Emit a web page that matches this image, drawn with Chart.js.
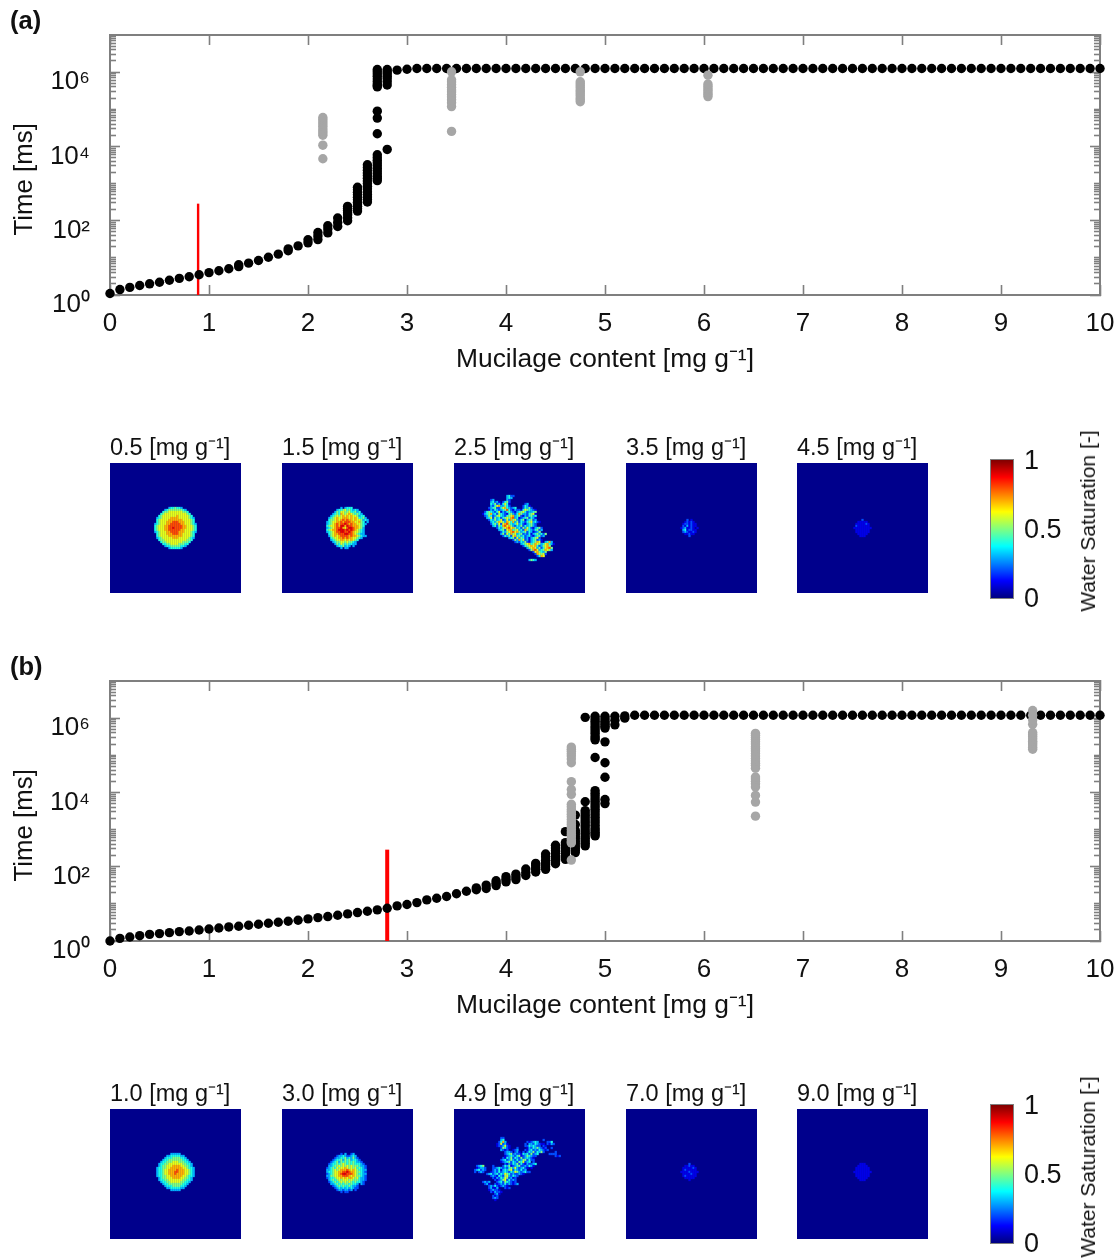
<!DOCTYPE html>
<html><head><meta charset="utf-8">
<style>
html,body{margin:0;padding:0;background:#fff;width:1114px;height:1258px;overflow:hidden}
#page{position:relative;width:1114px;height:1258px;overflow:hidden;filter:blur(0.45px)}
canvas{position:absolute;display:block}
canvas.heat{filter:blur(0.6px)}
.t{position:absolute;font-family:"Liberation Sans",Arial,sans-serif;color:#111;white-space:nowrap}
</style>
<script src="https://cdn.jsdelivr.net/npm/chart.js@4"></script>
</head><body><div id="page"></div>
<script>
const xTicks=[0,1,2,3,4,5,6,7,8,9,10];
const yMajorTicks=[1,100,10000,1000000];
const yMajorLabels=['10⁰','10²','10⁴','10⁶'];
const yMinorTicks=[2,3,4,5,6,7,8,9,10,20,30,40,50,60,70,80,90,200,300,400,500,600,700,800,900,1000,2000,3000,4000,5000,6000,7000,8000,9000,20000,30000,40000,50000,60000,70000,80000,90000,100000,200000,300000,400000,500000,600000,700000,800000,900000,2000000,3000000,4000000,5000000,6000000,7000000,8000000,9000000];

// panel (a) — time per mucilage content column
const aCurveX=[0,0.1,0.2,0.3,0.4,0.5,0.6,0.7,0.8,0.9,1,1.1,1.2,1.3,1.4,1.5,1.6,1.7,1.8,1.9,2,2.1,2.2,2.3,2.4,2.5,2.6,2.7,2.8,2.9,3];
const aCurveT=[[1.1],[1.4],[1.6],[1.8],[2],[2.2],[2.5],[2.8],[3.1],[3.5],[4],[4.5],[5.1],[5.8,6.5],[7.2],[8.5],[10.4],[12.6],[15.5,17.5],[21],[25.4,30.6],[31,39,48],[47,60,73],[70,90,118],[100,120,145,165,190,215,244],[182,210,244,280,313,365,427,500,583,680,794],[320,375,436,510,600,720,850,1000,1180,1400,1640,1930,2290,2700,3200],[1200,1380,1580,1860,2190,2600,3060,3600,4270,5000,5960,22000,58000,89000,400000,440000,480000,560000,650000,770000,890000,1030000,1180000],[8300,450000,550000,660000,780000,910000,1030000,1180000],[1130000],[1200000]];
const aPlateauX=[3.1,3.2,3.3,3.4,3.5,3.6,3.7,3.8,3.9,4,4.1,4.2,4.3,4.4,4.5,4.6,4.7,4.8,4.9,5,5.1,5.2,5.3,5.4,5.5,5.6,5.7,5.8,5.9,6,6.1,6.2,6.3,6.4,6.5,6.6,6.7,6.8,6.9,7,7.1,7.2,7.3,7.4,7.5,7.6,7.7,7.8,7.9,8,8.1,8.2,8.3,8.4,8.5,8.6,8.7,8.8,8.9,9,9.1,9.2,9.3,9.4,9.5,9.6,9.7,9.8,9.9,10];
const aPlateauT=[1250000,1250000,1250000,1250000,1250000,1250000,1250000,1250000,1250000,1250000,1250000,1250000,1250000,1250000,1250000,1250000,1250000,1250000,1250000,1250000,1250000,1250000,1250000,1250000,1250000,1250000,1250000,1250000,1250000,1250000,1250000,1250000,1250000,1250000,1250000,1250000,1250000,1250000,1250000,1250000,1250000,1250000,1250000,1250000,1250000,1250000,1250000,1250000,1250000,1250000,1250000,1250000,1250000,1250000,1250000,1250000,1250000,1250000,1250000,1250000,1250000,1250000,1250000,1250000,1250000,1250000,1250000,1250000,1250000,1250000];
const aGrayX=[2.15,3.45,4.75,6.04];
const aGrayT=[[4650,10800,20000,23000,26000,30000,35000,40000,46000,53000,60000],[25400,118000,150000,180000,215000,250000,290000,330000,390000,460000,540000,620000,1020000],[160000,180000,200000,230000,260000,295000,330000,380000,430000,490000,550000,1020000],[220000,250000,280000,320000,360000,420000,480000,830000]];
const aRedX=[0.89,0.89];
const aRedT=[1,288];

// panel (b)
const bCurveX=[0,0.1,0.2,0.3,0.4,0.5,0.6,0.7,0.8,0.9,1,1.1,1.2,1.3,1.4,1.5,1.6,1.7,1.8,1.9,2,2.1,2.2,2.3,2.4,2.5,2.6,2.7,2.8,2.9,3,3.1,3.2,3.3,3.4,3.5,3.6,3.7,3.8,3.9,4,4.1,4.2,4.3,4.4,4.5,4.6,4.7,4.8,4.9,5,5.1,5.2];
const bCurveT=[[1],[1.18],[1.28],[1.39],[1.51],[1.58],[1.68],[1.79],[1.86],[1.98],[2.11],[2.24],[2.39],[2.49],[2.65],[2.82],[3],[3.2],[3.4],[3.62],[3.93],[4.27],[4.55],[4.94],[5.37],[5.83],[6.34],[6.9],[7.64],[8.8],[9.6],[10.8],[12.8],[14.2],[15.8],[18.7],[21.9],[24,27],[26,32],[31,36,42],[39,46,54],[45,53,63],[58,70,87],[72,85,95,110,123],[85,100,115,130,150,185,220],[120,135,150,170,190,230,270,320,377],[158,180,205,232,260,300,340,390,445,880],[240,277,316,360,417,480,562,640,733,840,955,1365,2450],[363,430,500,580,676,800,930,1100,1290,1500,1740,2050,2400,2800,3240,5600,1050000],[676,760,850,970,1100,1300,1550,1800,2140,2550,3020,3550,4170,4900,5750,6800,8100,9500,11200,87000,260000,290000,330000,390000,450000,520000,600000,710000,830000,960000,1120000],[5000,6460,25700,63000,230000,540000,600000,660000,740000,830000,970000,1120000],[660000,880000,1120000],[1000000,1150000]];
const bPlateauX=[5.3,5.4,5.5,5.6,5.7,5.8,5.9,6,6.1,6.2,6.3,6.4,6.5,6.6,6.7,6.8,6.9,7,7.1,7.2,7.3,7.4,7.5,7.6,7.7,7.8,7.9,8,8.1,8.2,8.3,8.4,8.5,8.6,8.7,8.8,8.9,9,9.1,9.2,9.3,9.4,9.5,9.6,9.7,9.8,9.9,10];
const bPlateauT=[1200000,1200000,1200000,1200000,1200000,1200000,1200000,1200000,1200000,1200000,1200000,1200000,1200000,1200000,1200000,1200000,1200000,1200000,1200000,1200000,1200000,1200000,1200000,1200000,1200000,1200000,1200000,1200000,1200000,1200000,1200000,1200000,1200000,1200000,1200000,1200000,1200000,1200000,1200000,1200000,1200000,1200000,1200000,1200000,1200000,1200000,1200000,1200000];
const bGrayX=[4.66,6.52,9.32];
const bGrayT=[[151,437,470,537,640,741,860,1000,1180,1380,1600,1860,2200,2570,3000,3470,4100,4800,8900,12000,19500,63000,79000,95000,110000,129000,145000,166000],[2300,5500,8300,14000,17000,20000,23000,26000,45000,54000,61000,70000,82000,95000,112000,130000,150000,170000,200000,230000,265000,300000,345000,390000],[145000,165000,190000,215000,240000,280000,320000,360000,410000,680000,890000,1200000,1600000]];
const bRedX=[2.8,2.8];
const bRedT=[1,288];

// saturation maps: one char per cell, digit = saturation × 10
const aMapTitles=['0.5 [mg g⁻¹]','1.5 [mg g⁻¹]','2.5 [mg g⁻¹]','3.5 [mg g⁻¹]','4.5 [mg g⁻¹]'];
const bMapTitles=['1.0 [mg g⁻¹]','3.0 [mg g⁻¹]','4.9 [mg g⁻¹]','7.0 [mg g⁻¹]','9.0 [mg g⁻¹]'];
const aMapOrigins=[[22,22],[22,22],[10,16],[27,28],[28,28]];
const bMapOrigins=[[23,22],[22,22],[8,14],[27,27],[28,27]];
const aMap1=[
".......3445443.......",
".....34555555543.....",
"....4556666666554....",
"...456666666666654...",
"..45666666676666654..",
".3456666777766666543.",
".4566667777777666654.",
".4566677788877766654.",
"345666778888877666543",
"456667788888887766654",
"456667788988887766654",
"456667788888877666654",
"345666778888777666543",
".4566677788877666654.",
".4566667777777666654.",
".3456666677766666543.",
"..45566666666666554..",
"...455666666665554...",
"....4455666655544....",
".....34455555443.....",
".......3444443......."];
const aMap2=[
".......3.3444........",
".....34456454343.....",
"....3546655644534....",
"...345476567654543...",
"..34565676767665344..",
".3456766777676764453.",
".45567678787767665343",
"3456677878887766754.3",
"34567878898787766543.",
"4566787997988777654..",
"3456788976899877653..",
"4567789998989876543..",
"3456788998898766543..",
".456778889988765433..",
".3567678888787765433.",
"..4566778787766543...",
"..34566776767654.....",
"...345566565543......",
"....35465454433......",
".....3445343.3.......",
".......3.33.........."];
const aMap3=[
"................3422",
"................343",
"........23......32",
"........34231.2452",
"........4352314641.......23",
"........3246733542......2431",
".......23452246743234...24352",
".......132432345842132214654321",
".....24543246132453213456423345",
"....134573425432145324753324561",
".....23542356432456734521324534",
"......3462534245657834123452431",
".......243534623637563245134523",
"........3435765376473524324563421",
"........24536267854346342134532",
".........3425478675324352434532",
"...........24356786753425364213452",
"............3452677456342754324523",
".............24356786753452431235",
".............35264756345232413453425",
"..............243526745342342134523",
".................3452635423134562",
"...................253746231345231",
"....................23243521345761.3473",
".......................34567457653467431",
"........................24567674235675",
"..........................3567635246785",
"...........................257863457653",
".............................2675435",
"..............................276562",
"...............................2476",
"",
"...........................3543"];
const aMap4=[
"...2.1...",
"..12121..",
".1221211.",
".2131211.",
"1231121.1",
".3412211.",
".2321121.",
"..11211..",
"....2...."];
const aMap5=[
"....2....",
"..11111..",
".1111121.",
".2111111.",
"111111111",
".1111111.",
".1111111.",
"..11111..",
"...111..."];
const bMap1=[
".......33333.......",
".....334444433.....",
"....34445555443....",
"...3445555555443...",
"..344555666555443..",
".34455666666655443.",
".34556667777665543.",
"3445566777777665443",
"3445667777877766543",
"3445667778877766543",
"3445667778777766543",
"3445566777777665443",
".34556667777665543.",
".34455666666655443.",
"..344556666655443..",
"...3445555555443...",
"....34445555443....",
".....334444433.....",
".......33333......."];
const bMap2=[
".......2.3..23.......",
".....2334322343......",
"....233445343532.....",
"...23445354534432....",
"..2345354545454332...",
".234454565454544432..",
".3345565656565554332.",
"23454656676565645432.",
"33456567778767654433.",
"34456677889877655432.",
"23456678998887654433.",
"33556677888767655432.",
"23445667676776564332.",
".3454565666565554332.",
".234545656565454432..",
"..33454545545443.32..",
"...2345454454332.....",
"....234343434322.....",
".....23323323.2......",
".......2.22.........."];
const bMap3=[
"...............22",
"...............34...................2",
"..............2473..........212343....224",
".............126231........2.33243211.2132",
".............1223621.......22434322.21",
"...............25421...2....1324353212..2",
"...............3212..123...213423243212",
".................2332.231.2.243524352.....2",
".................23452322143425234.....2222",
".................1234324512354322.........212",
"................2143524325234321",
"...............23423532423552422",
"...............123452432546234.2",
".................2132435242132234",
"...2345....2....2435123452232431",
"...12332...223432324536323421.1",
"..234232...23241343562432423",
"..2.232...12324234324365323422",
"........2342342436542322321",
"..........23214325632432",
"...........213243652312",
"............21235624232",
"......2323...2342543212",
".......231..212324232123",
".........2324212321",
".........23113...212",
".........123221",
"..........213221",
"............231",
"...........212",
"...........232",
"............1"];
const bMap4=[
"....2....",
"..11211..",
".1111121.",
".1211111.",
"111121111",
".1111211.",
".1211111.",
"..11111..",
"....1...."];
const bMap5=[
"...111...",
"..11111..",
".1111111.",
".1111111.",
"111111111",
".1111111.",
".1111111.",
"..11111..",
"...111..."];
const aMaps=[aMap1,aMap2,aMap3,aMap4,aMap5];
const bMaps=[bMap1,bMap2,bMap3,bMap4,bMap5];

Chart.defaults.font.family='"Liberation Sans",Arial,sans-serif';
Chart.defaults.color='#111';
const GRAY='#7f7f7f';
const page=document.getElementById('page');
function addCanvas(x,y,w,h){const c=document.createElement('canvas');c.width=w;c.height=h;c.style.left=x+'px';c.style.top=y+'px';c.style.width=w+'px';c.style.height=h+'px';page.appendChild(c);return c;}
function addText(txt,x,y,size,extra){const d=document.createElement('div');d.className='t';d.textContent=txt;d.style.left=x+'px';d.style.top=y+'px';d.style.fontSize=size+'px';if(extra)Object.assign(d.style,extra);page.appendChild(d);return d;}
function pts(xs,cols){const o=[];xs.forEach((x,i)=>{const c=Array.isArray(cols[i])?cols[i]:[cols[i]];c.forEach(t=>o.push({x:x,y:t}));});return o;}
function fixed(list){return s=>{s.ticks=list.map(v=>({value:v}));};}
function noPad(s){s.paddingLeft=0;s.paddingRight=0;s.paddingTop=0;s.paddingBottom=0;}

function yScale(pos,list,len,weight){
  return {type:'logarithmic',position:pos,min:1,max:10000000,weight:weight,
    afterBuildTicks:fixed(list),
    grid:{drawOnChartArea:false,drawTicks:true,tickLength:-len,tickColor:GRAY,tickWidth:1.6},
    border:{display:false},
    ticks:{display:false}};
}
function mainChart(top,curveX,curveT,plX,plT,grayX,grayT,redX,redT,redW){
  const c=addCanvas(0,top,1114,385);
  const yL=yScale('left',yMajorTicks,10,1);
  yL.border={display:true,color:GRAY,width:2};
  yL.ticks={display:true,autoSkip:false,maxRotation:0,padding:30,labelOffset:10,font:{size:26},color:'#111',callback:(v,i)=>yMajorLabels[i]};
  yL.title={display:true,text:'Time [ms]\u00a0\u00a0\u00a0\u00a0',font:{size:25.8},color:'#111',padding:{top:9,bottom:0}};
  yL.afterFit=s=>{s.width=110;noPad(s);};
  const yLm=yScale('left',yMinorTicks,6,0);yLm.afterFit=s=>{s.width=0;noPad(s);};
  const yR=yScale('right',yMajorTicks,10,1);yR.border={display:true,color:GRAY,width:2};yR.afterFit=s=>{s.width=14;noPad(s);};
  const yRm=yScale('right',yMinorTicks,6,0);yRm.afterFit=s=>{s.width=0;noPad(s);};
  const xB={type:'linear',position:'bottom',min:0,max:10,afterBuildTicks:fixed(xTicks),
    grid:{drawOnChartArea:false,tickLength:-10,tickColor:GRAY,tickWidth:1.6},
    border:{display:true,color:GRAY,width:2},
    ticks:{autoSkip:false,maxRotation:0,padding:23,font:{size:26},color:'#111',callback:v=>String(v)},
    title:{display:true,text:'Mucilage content [mg g⁻¹]',font:{size:26.4},color:'#111',padding:{top:0,bottom:9}},
    afterFit:s=>{s.height=90;noPad(s);}};
  const xT={type:'linear',position:'top',min:0,max:10,afterBuildTicks:fixed(xTicks),
    grid:{drawOnChartArea:false,tickLength:-10,tickColor:GRAY,tickWidth:1.6},
    border:{display:true,color:GRAY,width:2},ticks:{display:false},afterFit:s=>{s.height=35;noPad(s);}};
  new Chart(c,{type:'scatter',data:{datasets:[
    {data:pts(grayX,grayT),xAxisID:'xB',yAxisID:'yL',backgroundColor:'#a6a6a6',pointRadius:4.7,borderWidth:0,clip:false,order:1},
    {data:pts(curveX,curveT).concat(pts(plX,plT)),xAxisID:'xB',yAxisID:'yL',backgroundColor:'#000',pointRadius:4.7,borderWidth:0,clip:false,order:2},
    {data:pts(redX,redT),xAxisID:'xB',yAxisID:'yL',showLine:true,borderColor:'#ff0000',borderWidth:redW,pointRadius:0,order:3}
  ]},options:{responsive:false,animation:false,devicePixelRatio:1,layout:{padding:0,autoPadding:false},
    plugins:{legend:{display:false},tooltip:{enabled:false},title:{display:false}},
    scales:{yL:yL,yLm:yLm,yR:yR,yRm:yRm,xB:xB,xT:xT}}});
}
mainChart(0,aCurveX,aCurveT,aPlateauX,aPlateauT,aGrayX,aGrayT,aRedX,aRedT,2.4);
mainChart(646,bCurveX,bCurveT,bPlateauX,bPlateauT,bGrayX,bGrayT,bRedX,bRedT,4);

function jet(v){const f=t=>Math.max(0,Math.min(1,t));const r=f(Math.min(4*v-1.5,-4*v+4.5)),g=f(Math.min(4*v-0.5,-4*v+3.5)),b=f(Math.min(4*v+0.5,-4*v+2.5));return `rgb(${Math.round(r*255)},${Math.round(g*255)},${Math.round(b*255)})`;}
const mapBg={id:'mapBg',beforeDatasetsDraw(ch){const a=ch.chartArea;ch.ctx.save();ch.ctx.fillStyle='#00008c';ch.ctx.fillRect(a.left,a.top,a.right-a.left,a.bottom-a.top);ch.ctx.restore();}};
function cells(rows,o){const out=[];rows.forEach((r,j)=>{[...r].forEach((ch,i)=>{if(ch>='1'&&ch<='9')out.push({x:o[0]+i+0.5,y:o[1]+j+0.5,v:Number(ch)/10});});});return out;}
function heat(x,y,title,rows,o){
  const c=addCanvas(x,y-30,131,160);c.className='heat';
  new Chart(c,{type:'scatter',data:{datasets:[{data:cells(rows,o),pointStyle:'rect',pointRadius:1.6,pointBorderWidth:0,pointBackgroundColor:ctx=>jet(ctx.raw.v)}]},
    options:{responsive:false,animation:false,devicePixelRatio:1,layout:{padding:0,autoPadding:false},
    plugins:{legend:{display:false},tooltip:{enabled:false},title:{display:true,text:title,align:'start',font:{size:23.5,weight:'normal'},color:'#111',padding:{top:1,bottom:0.8}}},
    scales:{x:{display:false,type:'linear',min:0,max:65},y:{display:false,type:'linear',min:0,max:65,reverse:true}}},plugins:[mapBg]});
}
const mapXs=[110,282,454,626,797];
mapXs.forEach((x,i)=>{heat(x,463,aMapTitles[i],aMaps[i],aMapOrigins[i]);heat(x,1109,bMapTitles[i],bMaps[i],bMapOrigins[i]);});

const barValue=[1];
const barTicks=[0,0.5,1];
function colorbar(y){
  const c=addCanvas(975,y-20,110,176);
  new Chart(c,{type:'bar',data:{labels:[''],datasets:[{data:barValue,barPercentage:1,categoryPercentage:1,borderWidth:0,
     backgroundColor:ctx=>{const a=ctx.chart.chartArea;if(!a)return '#000';const g=ctx.chart.ctx.createLinearGradient(0,a.bottom,0,a.top);for(let i=0;i<=32;i++)g.addColorStop(i/32,jet(i/32));return g;}}]},
    options:{responsive:false,animation:false,devicePixelRatio:1,layout:{padding:{left:16,top:20,bottom:18,right:0},autoPadding:false},
    plugins:{legend:{display:false},tooltip:{enabled:false}},
    scales:{x:{display:true,grid:{display:false,drawTicks:false},border:{display:true,color:GRAY,width:2},ticks:{display:false},afterFit:s=>{s.height=0;noPad(s);}},
     xt:{position:'top',type:'category',labels:[''],display:true,grid:{display:false,drawTicks:false},border:{display:true,color:GRAY,width:2},ticks:{display:false},afterFit:s=>{s.height=0;noPad(s);}},
     yl:{position:'left',min:0,max:1,display:true,grid:{display:false,drawTicks:false},border:{display:true,color:GRAY,width:2},ticks:{display:false},afterFit:s=>{s.width=0;noPad(s);}},
     y:{position:'right',min:0,max:1,afterBuildTicks:fixed(barTicks),grid:{drawOnChartArea:false,drawTicks:false},border:{display:true,color:GRAY,width:2},
        ticks:{padding:11,autoSkip:false,labelOffset:2,font:{size:27},color:'#111',callback:v=>String(v)},afterFit:s=>{s.width=72;noPad(s);}}}}});
}
colorbar(460);colorbar(1105);
addText('Water Saturation [-]',1088,521,21,{transform:'translate(-50%,-50%) rotate(-90deg)'});
addText('Water Saturation [-]',1088,1167,21,{transform:'translate(-50%,-50%) rotate(-90deg)'});
addText('(a)',10,6,25.5,{fontWeight:'bold'});
addText('(b)',10,652,25.5,{fontWeight:'bold'});
</script></body></html>
